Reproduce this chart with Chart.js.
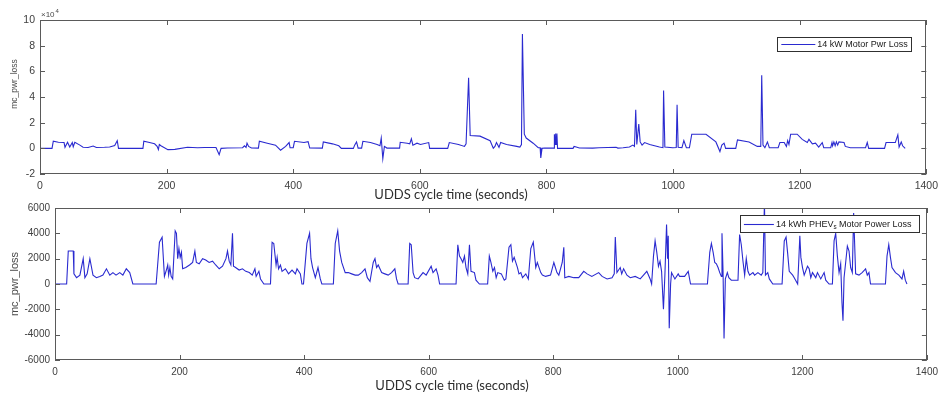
<!DOCTYPE html>
<html><head><meta charset="utf-8">
<script src="https://cdn.jsdelivr.net/npm/chart.js@4.4.1/dist/chart.umd.min.js"></script>
<style>
html,body{margin:0;padding:0;background:#fff;}
#wrap{position:relative;width:944px;height:394px;background:#fff;overflow:hidden;}
canvas{position:absolute;left:0;top:0;}
</style></head><body>
<div id="wrap">
<canvas id="topChart" width="944" height="394"></canvas>
<canvas id="bottomChart" width="944" height="394"></canvas>
</div>
<script>
// ---------- data ----------
const xTickValues = [0, 200, 400, 600, 800, 1000, 1200, 1400];
const topYTickValues = [-2, 0, 2, 4, 6, 8, 10];            // ×10^4
const bottomYTickValues = [-6000, -4000, -2000, 0, 2000, 4000, 6000];
const xAxisTitle = 'UDDS cycle time (seconds)';
const yAxisTitle = 'mc_pwr_loss';
const topSeriesName = '14 kW Motor Pwr Loss';
const bottomSeriesName = ['14 kWh PHEV', 's', ' Motor Power Loss'];

// 14 kW motor power loss (W) vs UDDS time (s)
const topTime = [
  0,19,21,29,38,39.5,43.5,47,51,52.5,
  55,63,68,76,84,89,102,110,118,122,
  124,162.6,164,173,181,185,187,188.5,191,202,
  213,233,249,260,278,283,286,296,320,323,
  325.5,327,329.5,334,345,346.5,359,372,380,388,
  393.5,395,400,402,417,423.5,426,446,447.5,462,
  472,476,495,497,500,502.5,508,510,522,532.5,
  537,539,541.5,544,548,568,569,580,584,586.6,
  589,595.5,601,614,615.5,644,646.5,661,670.5,673,
  677,679.5,695,711,716,718.6,721,725,727.6,737,
  753,758,760.5,762,765,768,779,787,790,791,
  793,797,812,812.5,813.5,814.5,815.5,816.5,817.5,842,
  843.6,847,852,873,883,910,912.8,921,931,936.5,
  939,941,942.7,945.8,948,951,955,963,978.5,984,
  985,987,999.5,1005,1006.3,1008,1014,1017,1021,1025.8,
  1029.5,1052,1067.6,1074,1077,1080.5,1083,1099,1101.7,1120,
  1133,1138.5,1140,1142,1145,1149,1152,1166,1168.7,1175.5,
  1179,1181,1183,1185.7,1196,1204,1212,1214.6,1220,1225,
  1230,1235.6,1238,1249,1251,1252,1254,1256,1258,1260,
  1262,1270,1272,1280,1304,1306.7,1309,1334,1336.4,1351,
  1355,1357,1360.4,1362.5,1366.6
];
const topLoss = [
  0,0,5500,4700,4500,800,4700,1000,4500,1200,
  4700,2500,800,600,1800,700,800,1000,2200,5900,
  0,0,5500,4500,3500,1500,-1000,3000,2000,-1000,
  -800,900,500,700,700,-5000,0,300,500,2000,
  800,4000,1500,300,200,5500,4000,2500,-1500,1500,
  4500,500,500,5500,4500,5200,300,200,5000,3500,
  2000,0,0,2500,5000,200,200,5500,4500,3000,
  2000,8000,-8000,1500,200,200,4700,4000,3500,7500,
  2500,4000,3000,4500,0,0,4500,3000,1500,3500,
  55000,10000,9500,5900,100,1500,4500,800,4500,3000,
  1500,1000,3000,89000,11000,8000,4000,500,500,-7500,
  0,200,200,11000,3000,11500,3000,11500,0,0,
  1500,1000,300,200,400,800,200,500,1000,2500,
  1500,30000,3000,19000,5000,2500,4500,3000,1000,500,
  45000,1000,500,700,34000,800,600,6000,500,500,
  11000,11000,5000,-2500,2500,4000,0,0,6500,5000,
  1500,1500,57000,2500,500,5000,500,500,4500,4500,
  1500,6000,3000,11000,11000,7000,4500,7000,3500,4000,
  1000,4500,500,500,4500,2000,5000,2000,5000,2500,
  5000,4500,1500,500,500,4500,0,0,4500,4500,
  10500,1000,5000,2000,0
];

// 14 kWh PHEVs motor power loss (W) vs UDDS time (s)
const bottomTime = [
  0,18.7,21.3,29.3,30.4,34.6,40,45.3,48,51.6,
  56,61,66.5,72,77,82.6,88,93,98,104,
  109,114.5,120,125,162.4,167.7,172,175.7,179.4,181,
  182.5,184.5,186.5,189,193,195,197,199,201,203,
  205,210,216,221,224.6,227,231.5,237,242,247.5,
  253,258,263.7,269,274.5,277,279.7,282.4,285,286.6,
  290,295.7,301,306.4,312,316.7,321,323,327.4,330,
  335.4,346,348.6,351.3,355,356.7,359,362,364.6,370,
  375,380.6,386,388.6,394,396.5,399,404.5,408.8,411,
  413.6,418,422.3,426,428.5,447,450,454,457,460.4,
  466,471,476.4,482,487,492.4,497.8,501.5,505.8,511,
  513.8,516.4,519,524.5,529.7,535,540.4,545.7,548.4,551,
  567,569.6,572,575,577.6,583,591,596,604,607,
  612,615,617.6,644,646.8,649.5,652,654.8,657.5,660,
  662.8,665.5,668,673.5,676,681.5,694.7,697.4,700,703,
  705.7,708.4,711,716.7,721.4,724,729,732,734.6,737.3,
  742.6,745,748,750.7,756,760,764,768,772,774.5,
  780,782.6,787.8,795.7,801,803.5,806,809,814.5,817,
  818.6,825,833,841,849,854.4,862,873,878.5,886.5,
  894.5,898,899.7,902.3,907.6,910,913,918.4,923.7,931.7,
  939.7,945,950.3,955.6,958,961,963.6,966.3,969,971.5,
  974,977,979.4,982,983.6,984.7,986.3,988.5,990,995.4,
  1000.7,1003,1011,1016.8,1020.5,1047.6,1051.4,1054,1056.8,1059.4,
  1062,1064.7,1067.4,1070,1071,1072.7,1074.3,1076.4,1079.6,1082,
  1086,1091.4,1096.7,1099.3,1102,1104.7,1107.4,1110,1112.7,1115.4,
  1120.7,1123.4,1128.7,1134,1136.6,1139.2,1140.8,1144.5,1147,1152.6,
  1167.5,1171,1173.9,1176.5,1179,1184.5,1187,1192.5,1194,1196,
  1197.7,1200.3,1203,1208.3,1211,1213.6,1216.3,1221.6,1224.3,1229.6,
  1235,1237.6,1243,1248.3,1251,1253.6,1256.3,1259,1261.6,1263.7,
  1265.3,1267,1269.6,1272.3,1275,1277.6,1280.3,1282.4,1285.6,1291,
  1296,1301.6,1304.3,1307,1309.5,1333.5,1336,1338.8,1341.5,1344,
  1349.6,1355,1360,1362.7,1365.4,1368
];
const bottomLoss = [
  0,0,2600,2600,800,500,700,2000,500,800,
  2000,700,500,600,700,1200,700,900,700,900,
  700,1200,900,0,0,3300,3700,600,1200,1500,
  700,1300,600,400,4200,4000,2000,2800,2100,2500,
  1200,1300,1500,1700,2600,1700,1600,2000,1900,1700,
  1800,1500,1200,1400,2000,2600,1800,1500,4000,1400,
  1300,1100,1200,1000,900,700,1200,600,1000,400,
  0,0,3300,3200,1500,2100,1200,1500,1000,1200,
  800,1100,800,1200,800,0,0,3200,4000,2000,
  1300,500,1300,400,0,0,3200,4200,2600,1700,
  900,900,800,700,700,900,1200,500,200,1700,
  2000,1300,1500,900,800,700,900,1200,400,0,
  0,3200,3100,900,500,400,900,700,1400,900,
  1200,700,0,0,3100,2200,2000,1700,2200,1300,
  800,3100,1000,900,300,0,0,2200,1700,1000,
  1300,500,900,800,300,400,2900,3100,1800,2100,
  1300,800,900,500,800,400,2800,3300,1300,1700,
  900,700,600,700,1700,1300,900,700,1700,2900,
  500,600,500,500,1000,800,600,900,600,400,
  500,800,3700,900,1300,800,1200,700,500,600,
  400,700,1000,400,0,2200,3400,2500,1400,1800,
  1000,-2000,800,4700,2000,3800,-3500,0,900,400,
  800,600,600,1000,0,0,2500,3200,2500,1700,
  1600,1300,900,600,4000,1000,-4300,400,900,500,
  300,300,300,3900,3100,1800,700,2000,1000,700,
  900,700,900,700,900,6500,700,900,400,0,
  0,3400,3700,2400,1000,700,500,0,1500,3800,
  2100,1300,700,1400,1200,500,900,500,900,400,
  900,300,0,0,3400,4000,2200,900,1600,-1500,
  -2900,500,1700,3000,2600,1300,900,5600,800,700,
  900,1200,700,900,0,0,2200,3100,2100,1300,
  900,700,400,1000,300,0
];

// ---------- drawing helpers ----------
const SANS = '"Liberation Sans", Arial, sans-serif';
const LINE_BLUE = '#2a2ad0';
const TICK_GREY = '#404040';

const matlabFrame = {
  id: 'matlabFrame',
  afterDatasetsDraw(chart, args, o) {
    const ctx = chart.ctx, a = chart.chartArea;
    const xs = chart.scales.x, ys = chart.scales.y;
    ctx.save();
    // legend (opaque box inside the axes)
    const lg = o.legend;
    const lx = a.right - lg.rightGap - lg.w, ly = a.top + lg.topGap;
    ctx.fillStyle = '#fff';
    ctx.fillRect(lx, ly, lg.w, lg.h);
    ctx.strokeStyle = '#303030';
    ctx.lineWidth = 1;
    ctx.strokeRect(Math.round(lx) + 0.5, Math.round(ly) + 0.5, lg.w, lg.h);
    const my = Math.round(ly + lg.h / 2) + 0.5;
    ctx.strokeStyle = LINE_BLUE;
    ctx.lineWidth = 1.1;
    ctx.beginPath();
    ctx.moveTo(lx + 4, my); ctx.lineTo(lx + 4 + lg.lineLen, my);
    ctx.stroke();
    ctx.fillStyle = '#202020';
    ctx.textBaseline = 'middle';
    ctx.textAlign = 'left';
    let tx = lx + 6 + lg.lineLen;
    const parts = Array.isArray(lg.text) ? lg.text : [lg.text];
    parts.forEach((p, i) => {
      const sub = parts.length === 3 && i === 1;
      ctx.font = (sub ? lg.size * 0.7 : lg.size) + 'px ' + SANS;
      ctx.fillText(p, tx, my + (sub ? 3 : 0));
      tx += ctx.measureText(p).width;
    });
    // frame
    ctx.strokeStyle = '#5a5a5a';
    ctx.lineWidth = 1;
    ctx.strokeRect(Math.round(a.left) + 0.5, Math.round(a.top) + 0.5,
                   Math.round(a.right - a.left) - 1, Math.round(a.bottom - a.top) - 1);
    // inside tick marks on all four sides
    const L = o.tickLen;
    ctx.beginPath();
    xs.ticks.forEach(t => {
      const x = Math.round(xs.getPixelForValue(t.value)) + 0.5;
      ctx.moveTo(x, a.bottom); ctx.lineTo(x, a.bottom - L);
      ctx.moveTo(x, a.top); ctx.lineTo(x, a.top + L);
    });
    ys.ticks.forEach(t => {
      const y = Math.round(ys.getPixelForValue(t.value)) + 0.5;
      ctx.moveTo(a.left, y); ctx.lineTo(a.left + L, y);
      ctx.moveTo(a.right, y); ctx.lineTo(a.right - L, y);
    });
    ctx.stroke();
    // axis titles
    ctx.fillStyle = '#2c2c2c';
    ctx.textAlign = 'center';
    ctx.textBaseline = 'middle';
    ctx.font = o.xTitle.size + 'px Lato, "Open Sans", sans-serif';
    ctx.fillText(xAxisTitle, o.xTitle.x, o.xTitle.y);
    ctx.save();
    ctx.translate(o.yTitle.x, o.yTitle.y);
    ctx.rotate(-Math.PI / 2);
    ctx.fillStyle = '#4a4a4a';
    ctx.font = o.yTitle.size + 'px ' + SANS;
    ctx.fillText(yAxisTitle, 0, 0);
    ctx.restore();
    // exponent label
    if (o.exponent) {
      ctx.fillStyle = '#4a4a4a';
      ctx.textAlign = 'left';
      ctx.font = '8px ' + SANS;
      ctx.fillText('\u00d710', a.left + 1, a.top - 5);
      const w = ctx.measureText('\u00d710').width;
      ctx.font = '6px ' + SANS;
      ctx.fillText(String(o.exponent), a.left + 2 + w, a.top - 9);
    }
    ctx.restore();
  }
};

function makeChart(id, times, values, cfg) {
  const points = times.map((t, i) => ({ x: t, y: values[i] }));
  return new Chart(document.getElementById(id), {
    type: 'line',
    data: { datasets: [{
      data: points, borderColor: LINE_BLUE, borderWidth: 1.1,
      pointRadius: 0, tension: 0, fill: false
    }] },
    options: {
      responsive: false, animation: false, devicePixelRatio: 1,
      layout: { padding: cfg.padding },
      plugins: {
        legend: { display: false }, tooltip: { enabled: false },
        matlabFrame: cfg.frame
      },
      scales: {
        x: {
          type: 'linear', min: 0, max: 1400,
          afterBuildTicks: s => { s.ticks = xTickValues.map(v => ({ value: v })); },
          afterFit: s => { s.height = cfg.xHeight; },
          grid: { display: false, drawTicks: false }, border: { display: false },
          ticks: { autoSkip: false, maxRotation: 0, padding: cfg.xPad, color: TICK_GREY,
                   font: { family: SANS, size: cfg.tickSize },
                   callback: v => String(Math.round(v)) }
        },
        y: {
          type: 'linear', min: cfg.yTicks[0], max: cfg.yTicks[cfg.yTicks.length - 1],
          afterBuildTicks: s => { s.ticks = cfg.yTicks.map(v => ({ value: v })); },
          afterFit: s => { s.width = cfg.yWidth; },
          grid: { display: false, drawTicks: false }, border: { display: false },
          ticks: { padding: 5, color: TICK_GREY, font: { family: SANS, size: cfg.tickSize },
                   callback: v => String(Math.round(v / cfg.yScale)) }
        }
      }
    },
    plugins: [matlabFrame]
  });
}

makeChart('topChart', topTime, topLoss, {
  padding: { left: 0, top: 20, right: 16, bottom: 197 },
  xHeight: 23, yWidth: 40, xPad: 6, tickSize: 10.5,
  yTicks: topYTickValues.map(v => v * 1e4), yScale: 1e4,
  frame: {
    tickLen: 5, exponent: 4,
    xTitle: { x: 451, y: 195, size: 13 },
    yTitle: { x: 15, y: 84, size: 8.5 },
    legend: { text: topSeriesName, rightGap: 15, topGap: 17, w: 134, h: 14, lineLen: 34, size: 9 }
  }
});

makeChart('bottomChart', bottomTime, bottomLoss, {
  padding: { left: 0, top: 208, right: 13, bottom: 0 },
  xHeight: 34, yWidth: 55, xPad: 6, tickSize: 10,
  yTicks: bottomYTickValues, yScale: 1,
  frame: {
    tickLen: 5, exponent: 0,
    xTitle: { x: 452, y: 386, size: 13 },
    yTitle: { x: 15, y: 284, size: 11 },
    legend: { text: bottomSeriesName, rightGap: 8, topGap: 7, w: 179, h: 17, lineLen: 30, size: 9 }
  }
});
</script>
</body></html>
